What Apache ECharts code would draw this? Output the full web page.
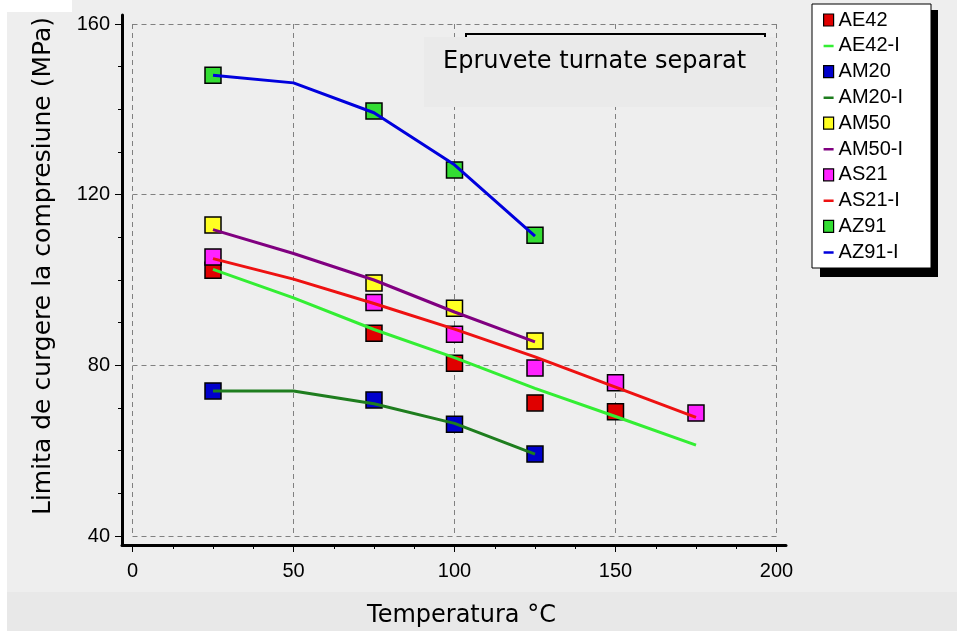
<!DOCTYPE html>
<html>
<head>
<meta charset="utf-8">
<script src="https://cdn.jsdelivr.net/npm/echarts@6/dist/echarts.min.js"></script>
<style>
html,body{margin:0;padding:0;background:#eeeeee;}
#chart{width:957px;height:631px;}
</style>
</head>
<body>
<div id="chart"></div>
<script>
// ---- Data ----
const xTickLabels = [0, 50, 100, 150, 200];
const yTickLabels = [40, 80, 120, 160];

const tempFit5 = [25, 50, 75, 100, 125];
const tempFit7 = [25, 50, 75, 100, 125, 150, 175];

const tempAE42 = [25, 75, 100, 125, 150];
const valAE42 = [102.3, 87.5, 80.5, 71.2, 69.1];
const fitAE42 = [102.5, 95.8, 88.4, 81.8, 74.6, 68.0, 61.3];

const tempAM20 = [25, 75, 100, 125];
const valAM20 = [74.0, 71.9, 66.2, 59.2];
const fitAM20 = [74.0, 74.0, 71.0, 66.4, 59.2];

const tempAM50 = [25, 75, 100, 125];
const valAM50 = [112.9, 99.3, 93.4, 85.7];
const fitAM50 = [111.8, 106.2, 100.0, 92.5, 85.5];

const tempAS21 = [25, 75, 100, 125, 150, 175];
const valAS21 = [105.4, 94.7, 87.3, 79.4, 75.9, 68.8];
const fitAS21 = [105.0, 100.2, 94.5, 88.5, 82.0, 74.9, 67.8];

const tempAZ91 = [25, 75, 100, 125];
const valAZ91 = [148.0, 139.6, 125.8, 110.5];
const fitAZ91 = [148.0, 146.2, 139.2, 127.0, 110.3];

const legendNames = ['AE42', 'AE42-I', 'AM20', 'AM20-I', 'AM50', 'AM50-I', 'AS21', 'AS21-I', 'AZ91', 'AZ91-I'];

const xTitle = 'Temperatura °C';
const yTitle = 'Limita de curgere la compresiune (MPa)';
const noteText = 'Epruvete turnate separat';

// ---- Styling ----
const colors = {
  'AE42': '#e00000', 'AE42-I': '#33ee33',
  'AM20': '#0000cc', 'AM20-I': '#1e7d1e',
  'AM50': '#ffff22', 'AM50-I': '#800080',
  'AS21': '#ff22ff', 'AS21-I': '#ee1111',
  'AZ91': '#33dd33', 'AZ91-I': '#0000dd'
};

function zip(xs, ys) { return xs.map((x, i) => [x, ys[i]]); }

function pts(name, xs, ys) {
  return {
    name: name, type: 'scatter', xAxisIndex: 1, yAxisIndex: 1,
    data: zip(xs, ys), symbol: 'rect', symbolSize: 16, z: 2,
    itemStyle: { color: colors[name], borderColor: '#000', borderWidth: 1.5, opacity: 1 },
    emphasis: { disabled: true }
  };
}
function fit(name, xs, ys) {
  return {
    name: name, type: 'line', xAxisIndex: 1, yAxisIndex: 1,
    data: zip(xs, ys), symbol: 'none', showSymbol: false, z: 3,
    color: colors[name],
    itemStyle: { color: colors[name] },
    lineStyle: { color: colors[name], width: 3 },
    emphasis: { disabled: true }
  };
}

const tickFont = 'Liberation Sans, Arial, sans-serif';
const titleFont = 'DejaVu Sans, Verdana, sans-serif';

const lineIcon = 'path://M0,0L0.01,0L0.01,0.01Z M0,5H10V7.5H0Z M0,12L0.01,12L0.01,11.99Z';
const squareIcon = 'path://M1,0H9V12H1Z M0,0L0.01,0L0.01,0.01Z M10,12L9.99,12L9.99,11.99Z';

const legendData = legendNames.map(n => n.endsWith('-I')
  ? { name: n, icon: lineIcon, itemStyle: { color: colors[n], borderWidth: 0 } }
  : { name: n, icon: 'rect', itemStyle: { color: colors[n], borderColor: '#000', borderWidth: 1.2 } });

const chart = echarts.init(document.getElementById('chart'), null, { renderer: 'canvas' });

const option = {
  backgroundColor: '#eeeeee',
  animation: false,
  grid: [
    { left: 122, right: 171, top: 15, bottom: 86 },
    { left: 132.5, right: 180.5, top: 24, bottom: 95 }
  ],
  xAxis: [
    { gridIndex: 0, type: 'value', min: 0, max: 1,
      axisLine: { show: true, onZero: false, lineStyle: { color: '#000', width: 3 } },
      axisTick: { show: false }, axisLabel: { show: false }, splitLine: { show: false } },
    { gridIndex: 1, type: 'value', min: xTickLabels[0], max: xTickLabels[xTickLabels.length - 1], interval: 50, offset: 9,
      axisLine: { show: false, onZero: false },
      axisTick: { show: true, length: 7, lineStyle: { color: '#000', width: 1 } },
      minorTick: { show: true, splitNumber: 4, length: 4, lineStyle: { color: '#000', width: 1 } },
      axisLabel: { fontFamily: tickFont, fontSize: 20, color: '#000', margin: 16 },
      splitLine: { show: true, lineStyle: { color: '#808080', width: 1, type: [5, 4] } } }
  ],
  yAxis: [
    { gridIndex: 0, type: 'value', min: 0, max: 1,
      axisLine: { show: true, onZero: false, lineStyle: { color: '#000', width: 3 } },
      axisTick: { show: false }, axisLabel: { show: false }, splitLine: { show: false } },
    { gridIndex: 1, type: 'value', min: yTickLabels[0], max: yTickLabels[yTickLabels.length - 1], interval: 40, offset: 10.5,
      axisLine: { show: false, onZero: false },
      axisTick: { show: true, length: 7, lineStyle: { color: '#000', width: 1 } },
      minorTick: { show: true, splitNumber: 4, length: 4, lineStyle: { color: '#000', width: 1 } },
      axisLabel: { fontFamily: tickFont, fontSize: 20, color: '#000', margin: 12 },
      splitLine: { show: true, lineStyle: { color: '#808080', width: 1, type: [5, 4] } } }
  ],
  legend: {
    orient: 'vertical', left: 823, top: 10, padding: 0,
    itemWidth: 10, itemHeight: 12, itemGap: 5.8,
    data: legendData,
    textStyle: { fontFamily: tickFont, fontSize: 20, color: '#000', lineHeight: 20 },
    selectedMode: false
  },
  graphic: [
    { type: 'rect', z: -10, silent: true, shape: { x: 0, y: 592, width: 957, height: 39 }, style: { fill: '#e8e8e8' } },
    { type: 'rect', z: -10, silent: true, shape: { x: 0, y: 0, width: 7, height: 631 }, style: { fill: '#ffffff' } },
    { type: 'rect', z: -10, silent: true, shape: { x: 0, y: 0, width: 72, height: 12 }, style: { fill: '#ffffff' } },
    { type: 'rect', z: -5, silent: true, shape: { x: 820, y: 10, width: 118, height: 267 }, style: { fill: '#000' } },
    { type: 'rect', z: -4, silent: true, shape: { x: 812, y: 4, width: 119, height: 264 }, style: { fill: '#fff', stroke: '#000', lineWidth: 1 } },
    { type: 'rect', z: 50, silent: true, shape: { x: 466, y: 34, width: 299, height: 60 }, style: { fill: '#eeeeee', stroke: '#000', lineWidth: 2 } },
    { type: 'rect', z: 51, silent: true, shape: { x: 424, y: 37, width: 352, height: 70 }, style: { fill: '#eaeaea' } },
    { type: 'text', z: 52, silent: true, x: 443, y: 62,
      style: { text: noteText, fontFamily: titleFont, fontSize: 24, fill: '#000', verticalAlign: 'middle', align: 'left' } },
    { type: 'text', z: 52, silent: true, x: 461.5, y: 616,
      style: { text: xTitle, fontFamily: titleFont, fontSize: 24, fill: '#000', verticalAlign: 'middle', align: 'center' } },
    { type: 'text', z: 52, silent: true, x: 43, y: 266, rotation: Math.PI / 2,
      style: { text: yTitle, fontFamily: titleFont, fontSize: 25, fill: '#000', verticalAlign: 'middle', align: 'center' } }
  ],
  series: [
    pts('AE42', tempAE42, valAE42),
    pts('AM20', tempAM20, valAM20),
    pts('AM50', tempAM50, valAM50),
    pts('AS21', tempAS21, valAS21),
    pts('AZ91', tempAZ91, valAZ91),
    fit('AE42-I', tempFit7, fitAE42),
    fit('AM20-I', tempFit5, fitAM20),
    fit('AM50-I', tempFit5, fitAM50),
    fit('AS21-I', tempFit7, fitAS21),
    fit('AZ91-I', tempFit5, fitAZ91)
  ]
};
chart.setOption(option);
</script>
</body>
</html>
